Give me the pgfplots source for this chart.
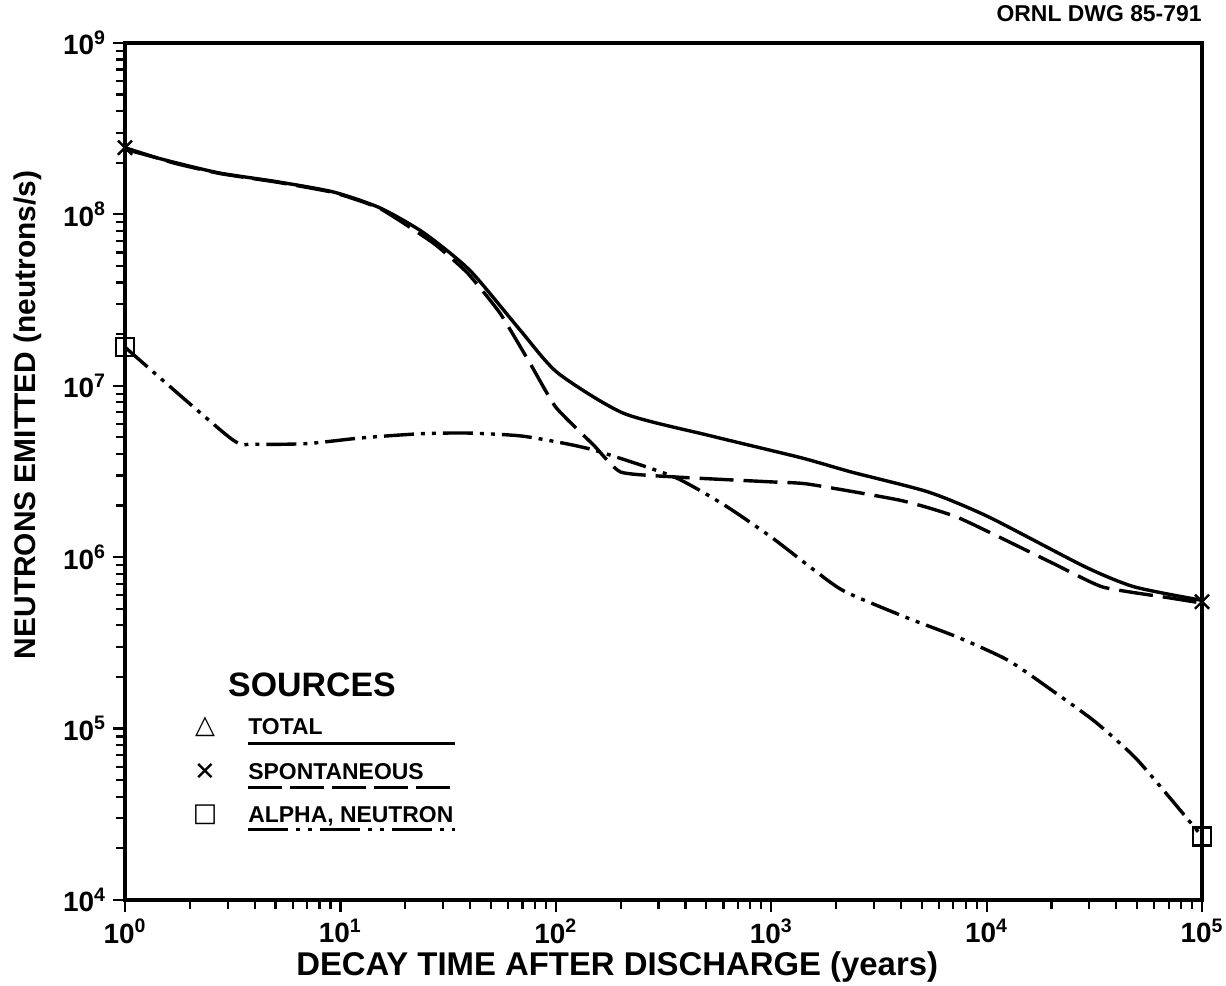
\documentclass[border=0pt]{standalone}
\usepackage{pgfplots}
\pgfplotsset{compat=1.18}
\usepackage{fontspec}
\setmainfont{Liberation Sans}
\newfontfamily\dejavu{DejaVu Sans}
\usetikzlibrary{calc}
\newcommand{\tl}[1]{\bfseries 10\textsuperscript{#1}}
\begin{document}
\begin{tikzpicture}
\begin{axis}[
  scale only axis,
  width=538.5bp, height=428.5bp,
  xmode=log, ymode=log,
  xmin=1, xmax=1e5, ymin=1e4, ymax=1e9,
  axis line style={line width=2.2bp},
  xtick={1,10,100,1000,10000,100000},
  xticklabels={\tl{0},\tl{1},\tl{2},\tl{3},\tl{4},\tl{5}},
  ytick={1e4,1e5,1e6,1e7,1e8,1e9},
  yticklabels={\tl{4},\tl{5},\tl{6},\tl{7},\tl{8},\tl{9}},
  tick label style={font=\fontsize{14}{14}\selectfont},
  xtick pos=bottom, ytick pos=left,
  tick align=outside,
  major tick length=6bp, minor tick length=4.5bp,
  every tick/.style={line width=1.1bp, black},
  xlabel={\bfseries DECAY TIME AFTER DISCHARGE (years)},
  xlabel style={font=\fontsize{16.5}{16.5}\selectfont, at={(axis description cs:0.457,-0.078)}, anchor=center},
  ylabel={\bfseries NEUTRONS EMITTED (neutrons/s)},
  ylabel style={font=\fontsize{15}{15}\selectfont, at={(axis description cs:-0.090,0.566)}, anchor=center},
  clip=false,
]
% TOTAL
\addplot[black, line width=1.7bp, smooth, tension=0.4] coordinates {
(1,2.4e8) (1.67,2.02e8) (2.77,1.74e8) (5.1,1.55e8) (9.3,1.35e8) (15.3,1.09e8)
(24.4,7.8e7) (40,4.7e7) (68.6,2.1e7) (102,1.19e7) (207,6.9e6) (525,5.1e6)
(1380,3.8e6) (2355,3.14e6) (5370,2.4e6) (10200,1.72e6) (28600,8.8e5) (48800,6.7e5) (1e5,5.6e5)};
% SPONTANEOUS
\addplot[black, line width=1.7bp, dash pattern=on 17bp off 5bp, smooth, tension=0.3] coordinates {
(1,2.45e8) (1.67,2.0e8) (2.77,1.73e8) (5.1,1.54e8) (9.3,1.34e8) (15.3,1.08e8)
(27,6.8e7) (38.9,4.55e7) (55,2.66e7) (76,1.35e7) (100,7.5e6) (150,4.5e6) (200,3.14e6)
(354,2.94e6) (1000,2.75e6) (1486,2.67e6) (4025,2.14e6) (7400,1.7e6) (20000,9.3e5)
(34600,6.7e5) (70000,5.8e5) (1e5,5.4e5)};
% ALPHA, NEUTRON
\addplot[black, line width=1.7bp, dash pattern=on 15bp off 3.5bp on 2bp off 3.5bp on 2bp off 3.5bp, smooth, tension=0.4] coordinates {
(1,1.68e7) (3.08,4.96e6) (3.94,4.57e6) (7,4.6e6) (12.4,4.96e6) (23.5,5.25e6) (39,5.3e6)
(68.7,5.1e6) (114,4.57e6) (162,4.1e6) (354,2.94e6) (604,2.02e6) (1000,1.31e6) (1585,8.4e5)
(2200,6.3e5) (4335,4.4e5) (7400,3.4e5) (12600,2.5e5) (20000,1.68e5) (31800,1.1e5)
(48800,6.8e4) (71000,3.94e4) (1e5,2.35e4)};
% markers
\addplot[only marks, mark=x, mark size=5bp, line width=1.2bp, black] coordinates {(1,2.45e8) (1e5,5.5e5)};
\addplot[only marks, mark=square, mark size=4.5bp, line width=1.2bp, black] coordinates {(1,1.68e7) (1e5,2.35e4)};
% legend
\node[font=\fontsize{17}{17}\selectfont\bfseries, anchor=center] at (axis description cs:0.1736,0.251) {SOURCES};
\node[font=\dejavu\fontsize{13}{13}\selectfont, anchor=center] at (axis description cs:0.0743,0.2019) {△};
\node[font=\dejavu\fontsize{13}{13}\selectfont, anchor=center] at (axis description cs:0.0743,0.1494) {✕};
\node[font=\dejavu\fontsize{13}{13}\selectfont, anchor=center] at (axis description cs:0.0743,0.0992) {□};
\node[font=\fontsize{11.5}{11.5}\selectfont\bfseries, anchor=base west, inner sep=0pt] at (axis description cs:0.1142,0.193) {TOTAL};
\node[font=\fontsize{11.5}{11.5}\selectfont\bfseries, anchor=base west, inner sep=0pt] at (axis description cs:0.1142,0.141) {SPONTANEOUS};
\node[font=\fontsize{11.5}{11.5}\selectfont\bfseries, anchor=base west, inner sep=0pt] at (axis description cs:0.1142,0.0905) {ALPHA, NEUTRON};
\draw[line width=1.5bp] (axis description cs:0.1142,0.183) -- (axis description cs:0.3064,0.183);
\draw[line width=1.5bp, dash pattern=on 17bp off 4bp] (axis description cs:0.1142,0.131) -- (axis description cs:0.3064,0.131);
\draw[line width=1.5bp, dash pattern=on 20bp off 4bp on 2bp off 4bp on 2bp off 4bp] (axis description cs:0.1142,0.0817) -- (axis description cs:0.3064,0.0817);
\node[font=\fontsize{11.5}{11.5}\selectfont\bfseries, anchor=east, inner sep=0pt] at (axis description cs:1.0,1.034) {ORNL DWG 85-791};
\end{axis}
\pgfresetboundingbox
\path[use as bounding box] ($(current axis.south west)+(-62.5bp,-43bp)$) rectangle ($(current axis.north east)+(12bp,21.5bp)$);
\end{tikzpicture}
\end{document}
